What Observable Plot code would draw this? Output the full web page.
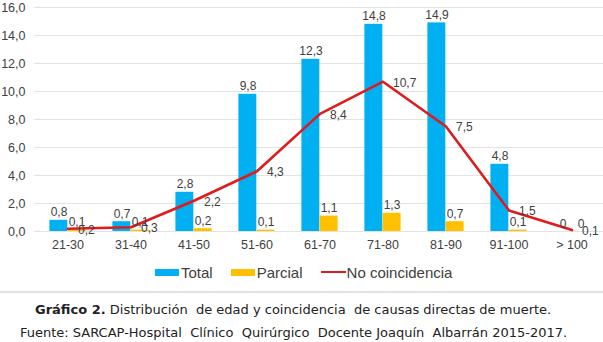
<!DOCTYPE html>
<html>
<head>
<meta charset="utf-8">
<script src="https://cdn.jsdelivr.net/npm/d3@7"></script>
<script src="https://cdn.jsdelivr.net/npm/@observablehq/plot@0.6"></script>
<style>
  html, body { margin: 0; padding: 0; background: #fff; }
  #wrap { position: relative; width: 603px; height: 342px; overflow: hidden; }
  #chart { position: absolute; left: 0; top: 0; }
  .legend { position: absolute; top: 263px; left: 155px; height: 18px; display: flex; align-items: center;
            font-family: "Liberation Sans", Arial, sans-serif; font-size: 15px; color: #404040; white-space: nowrap; }
  .item { display: flex; align-items: center; margin-right: 18px; }
  .sw { width: 24px; height: 7px; margin-right: 2px; }
  .ln { width: 25px; height: 2.5px; margin-right: 1px; }
  .sep { position: absolute; left: 0; top: 291px; width: 603px; height: 2px; background: #e2e2e2; }
  .cap { position: absolute; font-family: "DejaVu Sans", Verdana, sans-serif; font-size: 13px; line-height: 16px; color: #222; white-space: pre; }
</style>
</head>
<body>
<div id="wrap">
  <div id="chart"></div>
</div>
<script>
const categories = ["21-30", "31-40", "41-50", "51-60", "61-70", "71-80", "81-90", "91-100", "> 100"];
const total = [0.8, 0.7, 2.8, 9.8, 12.3, 14.8, 14.9, 4.8, 0];
const parcial = [0.1, 0.1, 0.2, 0.1, 1.1, 1.3, 0.7, 0.1, 0];
const noCoincidencia = [0.2, 0.3, 2.2, 4.3, 8.4, 10.7, 7.5, 1.5, 0.1];
const yTicks = [0, 2, 4, 6, 8, 10, 12, 14, 16];
const seriesNames = ["Total", "Parcial", "No coincidencia"];
const colors = ["#00B0F0", "#FFC000", "#E01B1B"];
const captionTitle = "Gráfico 2.";
const captionText = " Distribución  de edad y coincidencia  de causas directas de muerte.";
const sourceText = "Fuente: SARCAP-Hospital  Clínico  Quirúrgico  Docente Joaquín  Albarrán 2015-2017.";

const rows = categories.map((c, i) => ({cat: c, total: total[i], parcial: parcial[i], nc: noCoincidencia[i]}));
const fmt = v => v === 0 ? "0" : v.toFixed(1).replace(".", ",");
const tickFmt = v => v.toFixed(1).replace(".", ",");

const chart = Plot.plot({
  width: 603,
  height: 258,
  marginTop: 7,
  marginBottom: 27,
  marginLeft: 34,
  marginRight: 0,
  x: {domain: categories, range: [34, 604], padding: 0},
  y: {domain: [0, 16]},
  style: {fontFamily: "'Liberation Sans', Arial, sans-serif", fontSize: "12px", color: "#404040", background: "#fff"},
  marks: [
    Plot.gridY(yTicks, {stroke: "#e3e3e3", strokeOpacity: 1}),
    Plot.axisY({ticks: yTicks, tickSize: 0, tickPadding: 9, tickFormat: tickFmt, label: null, fontSize: 12.5}),
    Plot.axisX({tickSize: 0, tickPadding: 9, label: null, fontSize: 12.5}),
    Plot.barY(rows, {x: "cat", y: "total", fill: colors[0], insetLeft: 13.4, insetRight: 31.67}),
    Plot.barY(rows, {x: "cat", y: "parcial", fill: colors[1], insetLeft: 31.67, insetRight: 13.4}),
    Plot.line(rows, {x: "cat", y: "nc", stroke: colors[2], strokeWidth: 2.6}),
    Plot.text(rows, {x: "cat", y: "total", text: d => fmt(d.total), dx: -9, dy: -4, lineAnchor: "bottom", fill: "#404040"}),
    Plot.text(rows, {x: "cat", y: "parcial", text: d => fmt(d.parcial), dx: 9, dy: -4, lineAnchor: "bottom", fill: "#404040"}),
    Plot.text(rows, {x: "cat", y: "nc", text: d => fmt(d.nc), dx: 10, dy: 1, textAnchor: "start", lineAnchor: "middle", fill: "#404040"})
  ]
});
document.getElementById("chart").appendChild(chart);

const wrap = document.getElementById("wrap");
const legend = document.createElement("div");
legend.className = "legend";
seriesNames.forEach((name, i) => {
  const item = document.createElement("div");
  item.className = "item";
  const sw = document.createElement("div");
  sw.className = i === 2 ? "ln" : "sw";
  sw.style.background = colors[i];
  const t = document.createElement("span");
  t.textContent = name;
  item.appendChild(sw);
  item.appendChild(t);
  legend.appendChild(item);
});
wrap.appendChild(legend);

const sep = document.createElement("div");
sep.className = "sep";
wrap.appendChild(sep);

const cap1 = document.createElement("div");
cap1.className = "cap";
cap1.style.left = "35px";
cap1.style.top = "302px";
const b = document.createElement("b");
b.textContent = captionTitle;
cap1.appendChild(b);
cap1.appendChild(document.createTextNode(captionText));
wrap.appendChild(cap1);

const cap2 = document.createElement("div");
cap2.className = "cap";
cap2.style.left = "20px";
cap2.style.top = "325px";
cap2.textContent = sourceText;
wrap.appendChild(cap2);
</script>
</body>
</html>
